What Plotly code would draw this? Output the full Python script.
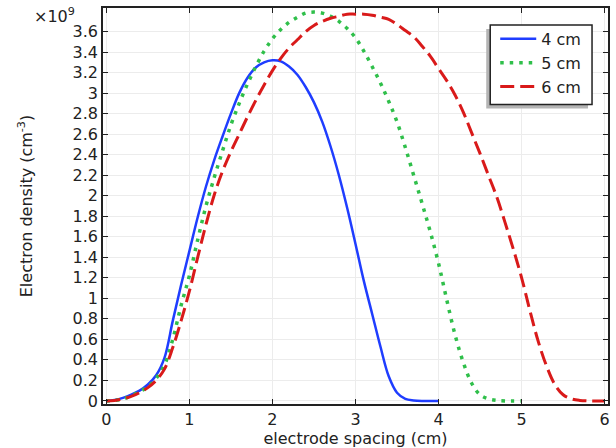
import plotly.graph_objects as go

# electrode spacing positions (cm) and electron density (units of 1e9 cm^-3)
x_4cm = [0, 0.1, 0.2, 0.3, 0.4, 0.5, 0.6, 0.7, 0.8, 0.9, 1.0, 1.1, 1.2, 1.3, 1.4, 1.5, 1.6, 1.7, 1.8, 1.9, 2.0,
         2.1, 2.2, 2.3, 2.4, 2.5, 2.6, 2.7, 2.8, 2.9, 3.0, 3.1, 3.2, 3.3, 3.4, 3.5, 3.6, 3.7, 3.8, 4.0]
n_4cm = [0, 0.01, 0.03, 0.06, 0.10, 0.16, 0.25, 0.42, 0.78, 1.13, 1.46, 1.79, 2.09, 2.35, 2.58, 2.80, 3.00, 3.15, 3.25, 3.30, 3.32,
         3.31, 3.26, 3.18, 3.06, 2.91, 2.72, 2.48, 2.20, 1.88, 1.53, 1.17, 0.85, 0.53, 0.24, 0.08, 0.02, 0.005, 0, 0]

x_5cm = [0, 0.1, 0.2, 0.3, 0.4, 0.5, 0.6, 0.7, 0.8, 0.9, 1.0, 1.1, 1.2, 1.3, 1.4, 1.5, 1.6, 1.7, 1.8, 1.9, 2.0,
         2.1, 2.2, 2.3, 2.4, 2.5, 2.6, 2.7, 2.8, 2.9, 3.0, 3.1, 3.2, 3.3, 3.4, 3.5, 3.6, 3.7, 3.8, 3.9, 4.0,
         4.1, 4.2, 4.3, 4.4, 4.5, 4.6, 4.7, 4.8, 5.0]
n_5cm = [0, 0.005, 0.02, 0.05, 0.09, 0.14, 0.22, 0.35, 0.60, 0.93, 1.22, 1.57, 1.90, 2.18, 2.44, 2.69, 2.90, 3.09, 3.26, 3.41, 3.53,
         3.62, 3.69, 3.74, 3.78, 3.79, 3.78, 3.75, 3.70, 3.63, 3.54, 3.41, 3.26, 3.10, 2.92, 2.72, 2.47, 2.20, 1.93, 1.65, 1.34,
         0.98, 0.64, 0.37, 0.17, 0.06, 0.02, 0.005, 0, 0]

x_6cm = [0, 0.1, 0.2, 0.3, 0.4, 0.5, 0.6, 0.7, 0.8, 0.9, 1.0, 1.1, 1.2, 1.3, 1.4, 1.5, 1.6, 1.7, 1.8, 1.9, 2.0,
         2.1, 2.2, 2.3, 2.4, 2.5, 2.6, 2.7, 2.8, 2.9, 3.0, 3.1, 3.2, 3.3, 3.4, 3.5, 3.6, 3.7, 3.8, 3.9, 4.0,
         4.1, 4.2, 4.3, 4.4, 4.5, 4.6, 4.7, 4.8, 4.9, 5.0, 5.1, 5.2, 5.3, 5.4, 5.5, 5.6, 5.7, 5.8, 6.0]
n_6cm = [0, 0.005, 0.02, 0.045, 0.08, 0.13, 0.20, 0.31, 0.52, 0.78, 1.07, 1.40, 1.72, 2.01, 2.24, 2.43, 2.60, 2.77, 2.93, 3.08, 3.22,
         3.34, 3.44, 3.52, 3.60, 3.66, 3.70, 3.73, 3.75, 3.77, 3.77, 3.77, 3.76, 3.74, 3.72, 3.67, 3.61, 3.55, 3.46, 3.36, 3.24,
         3.12, 2.98, 2.81, 2.61, 2.41, 2.20, 1.99, 1.74, 1.48, 1.20, 0.88, 0.58, 0.34, 0.16, 0.06, 0.02, 0.005, 0, 0]

series_names = ["4 cm", "5 cm", "6 cm"]
x_ticks = [0, 1, 2, 3, 4, 5, 6]
y_ticks = [round(0.2 * i, 1) for i in range(19)]

FONT = "DejaVu Sans"
W, H = 616, 448
L, R, T, B = 103, 7, 6, 44
PW, PH = W - L - R, H - T - B

def px_to_paper_x(px):
    return (px - L) / PW

def px_to_paper_y(py):
    return 1 - (py - T) / PH

fig = go.Figure()
fig.add_trace(go.Scatter(x=x_4cm, y=n_4cm, mode="lines", name=series_names[0], line_shape="spline",
                         line=dict(color="#1f3dff", width=2.5)))
fig.add_trace(go.Scatter(x=x_5cm, y=n_5cm, mode="lines", name=series_names[1], line_shape="spline",
                         line=dict(color="#2fbf4a", width=3.5, dash="3.5px,6px")))
fig.add_trace(go.Scatter(x=x_6cm, y=n_6cm, mode="lines", name=series_names[2], line_shape="spline",
                         line=dict(color="#d91a1a", width=3, dash="14px,6px")))

axis_common = dict(
    showline=True, linecolor="#222", linewidth=1.5, mirror="allticks",
    ticks="inside", ticklen=5, tickcolor="#222", tickwidth=1,
    showgrid=True, gridcolor="#ececec", gridwidth=1, zeroline=False,
    tickfont=dict(family=FONT, size=16, color="#222"),
)

fig.update_xaxes(range=[-0.04, 6.04], tickvals=x_ticks, **axis_common,
                 title=dict(text="electrode spacing (cm)", font=dict(family=FONT, size=16, color="#222"), standoff=1))
fig.update_yaxes(range=[-0.03, 3.83], tickvals=y_ticks, **axis_common,
                 title=dict(text="Electron density (cm<sup>-3</sup>)", font=dict(family=FONT, size=16, color="#222"), standoff=36))

fig.add_annotation(text="×10<sup>9</sup>", xref="paper", yref="paper",
                   x=px_to_paper_x(77), y=px_to_paper_y(14), xanchor="right", yanchor="middle",
                   showarrow=False, font=dict(family=FONT, size=16, color="#222"))

# legend shadow and frame
fig.add_shape(type="rect", xref="paper", yref="paper",
              x0=px_to_paper_x(487), x1=px_to_paper_x(589), y0=px_to_paper_y(107), y1=px_to_paper_y(27),
              fillcolor="#b4b4b4", line=dict(width=0), layer="above")
fig.add_shape(type="rect", xref="paper", yref="paper",
              x0=px_to_paper_x(491), x1=px_to_paper_x(593), y0=px_to_paper_y(103), y1=px_to_paper_y(23),
              fillcolor="white", line=dict(width=1.5, color="#222"), layer="above")

fig.update_layout(
    width=W, height=H, margin=dict(l=L, r=R, t=T, b=B),
    paper_bgcolor="white", plot_bgcolor="white",
    font=dict(family=FONT, size=16, color="#222"),
    legend=dict(x=px_to_paper_x(496), y=px_to_paper_y(20), xanchor="left", yanchor="top",
                bgcolor="rgba(0,0,0,0)", borderwidth=0, itemwidth=36, tracegroupgap=0,
                font=dict(family=FONT, size=16, color="#222")),
)

fig.write_html("out.html")
